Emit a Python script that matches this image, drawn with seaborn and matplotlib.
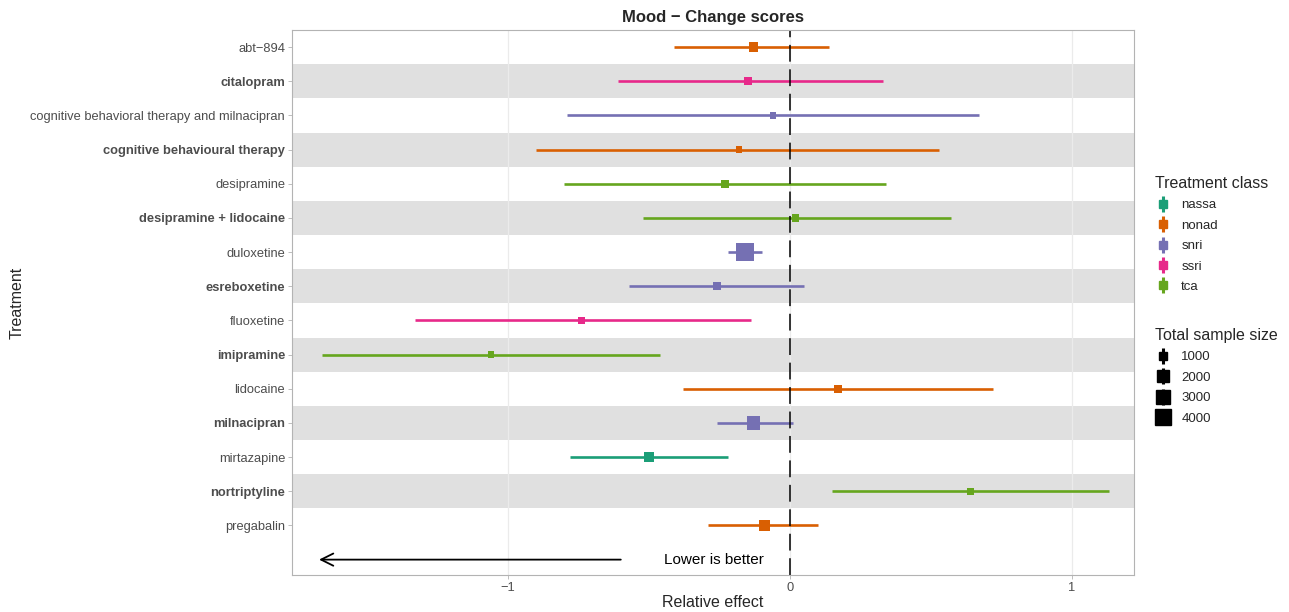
import matplotlib
matplotlib.use("Agg")
import matplotlib.pyplot as plt
from matplotlib.lines import Line2D
from matplotlib.legend_handler import HandlerTuple
import numpy as np
import pandas as pd
import seaborn as sns

# Treatments (top to bottom) with class, estimate, 95% interval and total sample size
treatments = [
    "abt\u2212894", "citalopram", "cognitive behavioral therapy and milnacipran",
    "cognitive behavioural therapy", "desipramine", "desipramine + lidocaine",
    "duloxetine", "esreboxetine", "fluoxetine", "imipramine", "lidocaine",
    "milnacipran", "mirtazapine", "nortriptyline", "pregabalin",
]
treatment_class = [
    "nonad", "ssri", "snri", "nonad", "tca", "tca", "snri", "snri", "ssri",
    "tca", "nonad", "snri", "nassa", "tca", "nonad",
]
estimate = [-0.13, -0.15, -0.06, -0.18, -0.23, 0.02, -0.16, -0.26, -0.74,
            -1.06, 0.17, -0.13, -0.50, 0.64, -0.09]
lower = [-0.41, -0.61, -0.79, -0.90, -0.80, -0.52, -0.22, -0.57, -1.33,
         -1.66, -0.38, -0.26, -0.78, 0.15, -0.29]
upper = [0.14, 0.33, 0.67, 0.53, 0.34, 0.57, -0.10, 0.05, -0.14,
         -0.46, 0.72, 0.01, -0.22, 1.13, 0.10]
sample_size = [1400, 1000, 650, 650, 1000, 870, 5100, 1100, 870,
               750, 1000, 3000, 1400, 870, 1800]

classes = ["nassa", "nonad", "snri", "ssri", "tca"]
class_colors = ["#1B9E77", "#D95F02", "#7570B3", "#E7298A", "#66A61E"]
size_breaks = [1000, 2000, 3000, 4000]

palette = dict(zip(classes, class_colors))

n = len(treatments)
df = pd.DataFrame({
    "treatment": treatments,
    "cls": treatment_class,
    "est": estimate,
    "lo": lower,
    "hi": upper,
    "n": sample_size,
})
df["pos"] = np.arange(n, 0, -1)

sns.set_theme(style="white")
plt.rcParams["font.family"] = ["Liberation Sans", "DejaVu Sans"]

W, H = 1289, 612
fig = plt.figure(figsize=(W / 100, H / 100), dpi=100)
ax = fig.add_axes([292 / W, 37 / H, 842 / W, 545 / H])

# square side in points grows with sqrt(n): area proportional to n
AREA_PER_N = 0.032
def marker_side(v):
    return np.sqrt(AREA_PER_N * v)

# alternating grey bands behind every second row
for i, p in enumerate(df["pos"]):
    if i % 2 == 1:
        ax.axhspan(p - 0.5, p + 0.5, color="#e0e0e0", lw=0, zorder=0)

# light vertical grid
for gx in [-1, 0, 1]:
    ax.axvline(gx, color="#ebebeb", lw=0.9, zorder=0.5)

# interval lines
for _, r in df.iterrows():
    ax.hlines(r["pos"], r["lo"], r["hi"], color=palette[r["cls"]], lw=1.9, zorder=2)

# point estimates
sns.scatterplot(
    data=df, x="est", y="pos", hue="cls", palette=palette, size="n",
    sizes=(0, AREA_PER_N * 8000), size_norm=(0, 8000), marker="s",
    linewidth=0, legend=False, ax=ax, zorder=3,
)

ax.axvline(0, color="black", lw=1.1, ls=(0, (11, 5)), zorder=2.5)

# direction arrow
ax.annotate("", xy=(-1.67, 0), xytext=(-0.6, 0),
            arrowprops=dict(arrowstyle="->", color="black", lw=1.3,
                            mutation_scale=22, shrinkA=0, shrinkB=0))
ax.text(-0.27, 0, "Lower is better", ha="center", va="center", fontsize=11,
        color="black")

ax.set_xlim(-1.766, 1.22)
ax.set_ylim(-0.45, 15.5)
ax.set_xticks([-1, 0, 1])
ax.set_xticklabels(["\u22121", "0", "1"])
ax.set_yticks(df["pos"])
ax.set_yticklabels(df["treatment"])
for i, lab in enumerate(ax.get_yticklabels()):
    if i % 2 == 1:
        lab.set_fontweight("bold")
ax.tick_params(axis="both", labelsize=9.3, labelcolor="#4d4d4d", color="#b3b3b3",
               length=3, width=0.6, left=True, bottom=True, pad=2)
for s in ax.spines.values():
    s.set_color("#b3b3b3")
    s.set_linewidth(0.8)

ax.set_xlabel("Relative effect", fontsize=11.5, labelpad=1)
ax.set_ylabel("Treatment", fontsize=11.5, labelpad=4)
ax.set_title("Mood \u2212 Change scores", fontsize=12, fontweight="bold", pad=6)

# legends
class_handles = [
    (Line2D([], [], color=c, marker="|", ms=12, mew=2.2, ls=""),
     Line2D([], [], color=c, marker="s", ms=5.5, ls=""))
    for c in class_colors
]
leg1 = fig.legend(class_handles, classes, title="Treatment class",
                  loc="upper left", bbox_to_anchor=(1143 / W, 1 - 164 / H),
                  frameon=False, fontsize=9.5, title_fontsize=11.5,
                  handler_map={tuple: HandlerTuple(ndivide=1)},
                  handlelength=1.3, handletextpad=0.7, labelspacing=0.62,
                  alignment="left")

size_handles = [
    (Line2D([], [], color="black", marker="|", ms=12, mew=2.2, ls=""),
     Line2D([], [], color="black", marker="s", ms=marker_side(v), ls=""))
    for v in size_breaks
]
leg2 = fig.legend(size_handles, [str(v) for v in size_breaks],
                  title="Total sample size", loc="upper left",
                  bbox_to_anchor=(1143 / W, 1 - 316 / H), frameon=False,
                  fontsize=9.5, title_fontsize=11.5,
                  handler_map={tuple: HandlerTuple(ndivide=1)},
                  handlelength=1.3, handletextpad=0.7, labelspacing=0.62,
                  alignment="left")

fig.savefig("out.png", dpi=100)
